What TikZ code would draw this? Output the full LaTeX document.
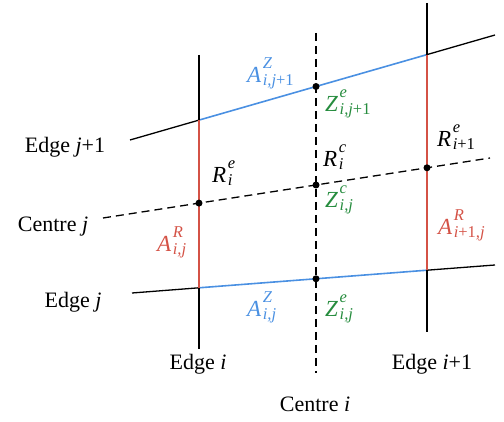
\documentclass[tikz,border=0pt]{standalone}
\usepackage{fontspec}
\setmainfont{Liberation Serif}
\usepackage{tikz}
\usetikzlibrary{calc}
\definecolor{areablue}{RGB}{74,144,226}
\definecolor{areared}{RGB}{212,82,70}
\definecolor{zgreen}{RGB}{38,140,62}
\newcommand{\labscript}{\fontsize{16.5}{16.5}\selectfont}
\newcommand{\symlab}[3]{\textit{#1}\kern1.5pt\rlap{\raisebox{14pt}{\labscript\textit{#2}}}\raisebox{-2.5pt}{\labscript #3}}

\begin{document}
\begin{tikzpicture}[
    x=1pt, y=-1pt,
    edgeline/.style={draw=black, line width=1.3pt},
    centreline/.style={draw=black, line width=1.3pt, dash pattern=on 8pt off 5pt},
    bluearea/.style={draw=areablue, line width=1.6pt},
    redarea/.style={draw=areared, line width=1.6pt},
    dot/.style={circle, fill=black, inner sep=0pt, minimum size=7pt},
    lbl/.style={inner sep=0pt, anchor=base, font=\fontsize{22}{26}\selectfont},
    mlbl/.style={inner sep=0pt, anchor=base west, font=\fontsize{23}{26}\selectfont}
]
\useasboundingbox (0,0) rectangle (504,422);

\coordinate (ej1w) at (130,140);
\coordinate (ej1e) at (495,35);
\coordinate (cjw) at (103,218);
\coordinate (cje) at (490,158);
\coordinate (ejw) at (132,293);
\coordinate (eje) at (495,265);
\coordinate (eit) at (199,55);
\coordinate (eib) at (199,349);
\coordinate (cit) at (316,33);
\coordinate (cib) at (316,373);
\coordinate (ei1t) at (427,3);
\coordinate (ei1b) at (427,332);

\coordinate (tl) at (199,120.1);
\coordinate (tc) at (316,86.5);
\coordinate (tr) at (427,54.6);
\coordinate (ml) at (199,203.1);
\coordinate (mc) at (316,185.0);
\coordinate (mr) at (427,167.8);
\coordinate (bl) at (199,287.8);
\coordinate (bc) at (316,278.8);
\coordinate (br) at (427,270.2);

\draw[edgeline] (ej1w) -- (tl);
\draw[bluearea] (tl) -- (tr);
\draw[edgeline] (tr) -- (ej1e);
\draw[centreline] (cjw) -- (cje);
\draw[edgeline] (ejw) -- (bl);
\draw[bluearea] (bl) -- (br);
\draw[edgeline] (br) -- (eje);

\draw[edgeline] (eit) -- (tl);
\draw[redarea] (tl) -- (bl);
\draw[edgeline] (bl) -- (eib);
\draw[edgeline] (ei1t) -- (tr);
\draw[redarea] (tr) -- (br);
\draw[edgeline] (br) -- (ei1b);
\draw[centreline] (cit) -- (cib);

\node[dot] (dtc) at (tc) {};
\node[dot] (dml) at (ml) {};
\node[dot] (dmc) at (mc) {};
\node[dot] (dmr) at (mr) {};
\node[dot] (dbc) at (bc) {};

\node[lbl] (lej1) at (65,153) {Edge \textit{j}+1};
\node[lbl] (lcj) at (53,232) {Centre \textit{j}};
\node[lbl] (lej) at (73,308) {Edge \textit{j}};
\node[lbl] (lei) at (198,370) {Edge \textit{i}};
\node[lbl] (lei1) at (432,370) {Edge \textit{i}+1};
\node[lbl] (lci) at (315,412) {Centre \textit{i}};

\node[mlbl, text=areablue] (azt) at (247,83) {\symlab{A}{Z}{\textit{i,j}+1}};
\node[mlbl, text=zgreen] (zet) at (325,112) {\symlab{Z}{e}{\textit{i,j}+1}};
\node[mlbl] (rci) at (323,167) {\symlab{R}{c}{\textit{i}}};
\node[mlbl] (rei) at (212,183) {\symlab{R}{e}{\textit{i}}};
\node[mlbl, text=zgreen] (zcij) at (325,208) {\symlab{Z}{c}{\textit{i,j}}};
\node[mlbl, text=areablue] (azb) at (247,317) {\symlab{A}{Z}{\textit{i,j}}};
\node[mlbl, text=zgreen] (zeb) at (325,317) {\symlab{Z}{e}{\textit{i,j}}};
\node[mlbl] (rei1) at (437,147) {\symlab{R}{e}{\textit{i}+1}};
\node[mlbl, text=areared] (ari1) at (438,235) {\symlab{A}{R}{\textit{i}+1\textit{,j}}};
\node[mlbl, text=areared] (ari) at (157,252) {\symlab{A}{R}{\textit{i,j}}};
\end{tikzpicture}
\end{document}
